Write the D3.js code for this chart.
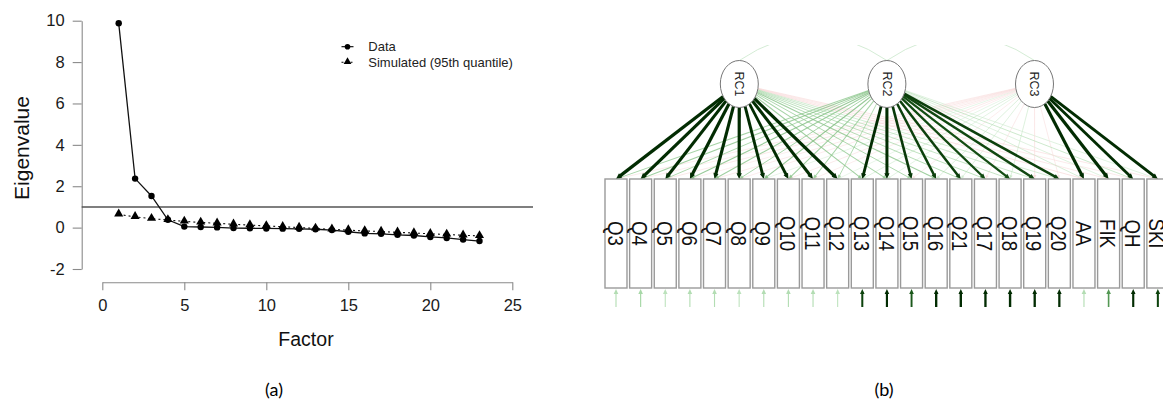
<!DOCTYPE html>
<html>
<head>
<meta charset="utf-8">
<script src="https://cdn.jsdelivr.net/npm/d3@7"></script>
<style>
  body { margin: 0; background: #fff; }
  svg { display: block; font-family: "Liberation Sans", Arial, sans-serif; }
</style>
</head>
<body>
<div id="chart"></div>
<script>
// ---- panel (a): parallel analysis scree plot ----
const factors = d3.range(1, 24);
const dataEigen = [9.88, 2.37, 1.53, 0.38, 0.05, 0.03, 0.01, -0.02, -0.03, -0.04, -0.05, -0.06,
  -0.08, -0.12, -0.2, -0.28, -0.3, -0.35, -0.38, -0.45, -0.5, -0.58, -0.65];
const simEigen = [0.64, 0.52, 0.43, 0.37, 0.3, 0.25, 0.21, 0.16, 0.12, 0.08, 0.04, 0.0,
  -0.04, -0.08, -0.12, -0.16, -0.19, -0.23, -0.26, -0.3, -0.33, -0.37, -0.4];
const xTicks = [0, 5, 10, 15, 20, 25];
const yTicks = [-2, 0, 2, 4, 6, 8, 10];
const legendLabels = ["Data", "Simulated (95th quantile)"];

// ---- panel (b): loadings diagram ----
const items = ["Q3", "Q4", "Q5", "Q6", "Q7", "Q8", "Q9", "Q10", "Q11", "Q12", "Q13", "Q14",
  "Q15", "Q16", "Q21", "Q17", "Q18", "Q19", "Q20", "AA", "FIK", "QH", "SKI"];
const rcNames = ["RC1", "RC2", "RC3"];
const loadRC1 = [0.78, 0.8, 0.76, 0.8, 0.77, 0.79, 0.74, 0.72, 0.75, 0.78, 0.3, 0.28,
  0.26, 0.3, 0.24, 0.22, 0.2, 0.18, 0.16, -0.16, -0.12, -0.1, -0.13];
const loadRC2 = [0.28, 0.3, 0.26, 0.32, 0.3, 0.27, 0.33, 0.3, 0.28, 0.25, 0.72, 0.75,
  0.68, 0.66, 0.66, 0.63, 0.62, 0.64, 0.66, 0.14, 0.1, 0.18, 0.1];
const loadRC3 = [-0.1, -0.08, -0.12, -0.06, -0.1, -0.08, 0.06, -0.1, -0.07, 0.05, 0.1, 0.08,
  -0.08, 0.12, 0.1, -0.1, 0.12, -0.14, -0.1, 0.76, 0.78, 0.72, 0.75];
const residuals = [0.3, 0.32, 0.28, 0.3, 0.3, 0.28, 0.3, 0.3, 0.3, 0.28, 0.5, 0.52,
  0.48, 0.55, 0.56, 0.55, 0.56, 0.55, 0.54, 0.3, 0.42, 0.52, 0.5];
const factorCorr = [["RC1", "RC2", 0.15], ["RC2", "RC3", 0.12]];

const W = 1163, H = 414;
const svg = d3.select("#chart").append("svg").attr("width", W).attr("height", H);

// ===== panel (a) =====
const x = d3.scaleLinear().domain([0, 25]).range([102.3, 512.3]);
const y = d3.scaleLinear().domain([-2, 10]).range([269, 20.7]);
const pa = svg.append("g");

const xAxis = pa.append("g")
  .attr("transform", "translate(0,282.3)")
  .call(d3.axisBottom(x).tickValues(xTicks).tickSize(8).tickSizeOuter(0).tickPadding(9));
const yAxis = pa.append("g")
  .attr("transform", "translate(81.7,0)")
  .call(d3.axisLeft(y).tickValues(yTicks).tickFormat(d => String(d)).tickSize(9).tickSizeOuter(0).tickPadding(8));
[xAxis, yAxis].forEach(a => {
  a.selectAll("path, line").attr("stroke", "#8a8a8a").attr("stroke-width", 1.1);
  a.selectAll("text").attr("font-size", 16.5).attr("fill", "#1a1a1a")
    .attr("font-family", "Liberation Sans, Arial, sans-serif");
});

pa.append("line")
  .attr("x1", 81.7).attr("x2", 533)
  .attr("y1", y(1)).attr("y2", y(1))
  .attr("stroke", "#555").attr("stroke-width", 1.4);

const line = d3.line().x((d, i) => x(factors[i])).y(d => y(d));
pa.append("path").datum(simEigen)
  .attr("d", line).attr("fill", "none")
  .attr("stroke", "#111").attr("stroke-width", 1.1).attr("stroke-dasharray", "2,3");
pa.append("path").datum(dataEigen)
  .attr("d", line).attr("fill", "none")
  .attr("stroke", "#111").attr("stroke-width", 1.3);

const tri = d3.symbol().type(d3.symbolTriangle).size(36);
pa.selectAll(".sim").data(simEigen).join("path")
  .attr("transform", (d, i) => `translate(${x(factors[i])},${y(d) - 0.5})`)
  .attr("d", tri).attr("fill", "#000");
pa.selectAll(".dat").data(dataEigen).join("circle")
  .attr("cx", (d, i) => x(factors[i])).attr("cy", d => y(d))
  .attr("r", 3.2).attr("fill", "#000");

// legend
const lg = pa.append("g");
legendLabels.forEach((lab, i) => {
  const ly = 46.7 + i * 15.6;
  lg.append("line").attr("x1", 341.5).attr("x2", 353.5).attr("y1", ly).attr("y2", ly)
    .attr("stroke", "#000").attr("stroke-width", 1.1)
    .attr("stroke-dasharray", i === 0 ? null : "2,2.5");
  if (i === 0) lg.append("circle").attr("cx", 347.5).attr("cy", ly).attr("r", 2.8);
  else lg.append("path").attr("transform", `translate(347.5,${ly - 0.5})`).attr("d", d3.symbol().type(d3.symbolTriangle).size(26));
  lg.append("text").attr("x", 368.3).attr("y", ly).attr("dy", "0.35em")
    .attr("font-size", 13).attr("fill", "#222").text(lab);
});

pa.append("text").attr("transform", "translate(29,148) rotate(-90)")
  .attr("text-anchor", "middle").attr("font-size", 21).attr("fill", "#111").text("Eigenvalue");
pa.append("text").attr("x", 306).attr("y", 346)
  .attr("text-anchor", "middle").attr("font-size", 19.5).attr("fill", "#111").text("Factor");

svg.append("text").attr("x", 274).attr("y", 396).attr("text-anchor", "middle")
  .attr("font-size", 18).attr("font-family", "Lato, sans-serif").text("(a)");
svg.append("text").attr("x", 884).attr("y", 396).attr("text-anchor", "middle")
  .attr("font-size", 18).attr("font-family", "Lato, sans-serif").text("(b)");

// ===== panel (b) =====
const pb = svg.append("g");
const bx = d3.scaleBand().domain(items).range([605, 605 + 24.63 * (items.length - 0.107)])
  .paddingInner(0.107).paddingOuter(0);
const fx = d3.scalePoint().domain(rcNames).range([739.3, 1034.5]);
const fy = 84, rx = 19, ry = 23.5;
const boxTop = 179, boxBot = 288;

const posCol = d3.interpolateRgbBasis(["#e2f3e2", "#92d192", "#236f23", "#022c02"]);
const negCol = d3.interpolateRgbBasis(["#fbe8e8", "#f0aeae", "#c23c3c"]);
const strength = w => Math.min(1, Math.pow(Math.abs(w) / 0.72, 1.2));
const edgeColor = w => (w >= 0 ? posCol : negCol)(strength(w));
const edgeWidth = w => 0.7 + 2.5 * Math.pow(Math.min(1, Math.abs(w) / 0.78), 2);

// factor correlation curves (clipped at the top, as in the original)
const clip = svg.append("clipPath").attr("id", "topclip");
clip.append("rect").attr("x", 600).attr("y", 45).attr("width", 563).attr("height", 60);
factorCorr.forEach(([a, b, w]) => {
  const x1 = fx(a), x2 = fx(b);
  pb.append("path")
    .attr("d", `M${x1},${fy - ry} Q${(x1 + x2) / 2},${fy - ry - 50} ${x2},${fy - ry}`)
    .attr("fill", "none").attr("stroke", "#cfead0").attr("stroke-width", 0.9)
    .attr("clip-path", "url(#topclip)");
});

const loads = [loadRC1, loadRC2, loadRC3];
const edges = [];
rcNames.forEach((rc, k) => {
  items.forEach((it, i) => edges.push({ rc, it, w: loads[k][i] }));
});
edges.sort((a, b) => Math.abs(a.w) - Math.abs(b.w));

const eg = pb.append("g");
edges.forEach(e => {
  const cx = fx(e.rc), tx = bx(e.it) + bx.bandwidth() / 2, ty = boxTop;
  const dx = tx - cx, dy = ty - fy;
  const t = 1 / Math.sqrt((dx * dx) / (rx * rx) + (dy * dy) / (ry * ry));
  const sx = cx + dx * t, sy = fy + dy * t;
  const len = Math.hypot(tx - sx, ty - sy);
  const ux = (tx - sx) / len, uy = (ty - sy) / len;
  const col = edgeColor(e.w);
  const op = Math.abs(e.w) > 0.5 ? 1 : 0.8;
  const ah = 3.5 + Math.abs(e.w) * 3, aw = 1.4 + Math.abs(e.w) * 1.6;
  eg.append("line")
    .attr("x1", sx).attr("y1", sy).attr("x2", tx - ux * ah * 0.6).attr("y2", ty - uy * ah * 0.6)
    .attr("stroke", col).attr("stroke-width", edgeWidth(e.w)).attr("stroke-opacity", op);
  const bxp = tx - ux * ah, byp = ty - uy * ah;
  eg.append("path")
    .attr("d", `M${tx},${ty} L${bxp - uy * aw},${byp + ux * aw} L${bxp + uy * aw},${byp - ux * aw}Z`)
    .attr("fill", col).attr("fill-opacity", op);
});

// factor ellipses
const fg = pb.selectAll(".fac").data(rcNames).join("g")
  .attr("transform", d => `translate(${fx(d)},${fy})`);
fg.append("ellipse").attr("rx", rx).attr("ry", ry)
  .attr("fill", "#fff").attr("stroke", "#777").attr("stroke-width", 1);
fg.append("text").attr("transform", "rotate(90)")
  .attr("text-anchor", "middle").attr("dy", "0.35em")
  .attr("font-size", 12.5).attr("fill", "#222").text(d => d);

// item boxes
const ig = pb.selectAll(".item").data(items).join("g");
ig.append("rect")
  .attr("x", d => bx(d)).attr("y", boxTop)
  .attr("width", bx.bandwidth()).attr("height", boxBot - boxTop)
  .attr("fill", "#fff").attr("stroke", "#9a9a9a").attr("stroke-width", 1.4);
ig.append("text")
  .attr("transform", d => `translate(${bx(d) + bx.bandwidth() / 2},${(boxTop + boxBot) / 2}) rotate(90) scale(0.85,1)`)
  .attr("text-anchor", "middle").attr("dy", "0.38em")
  .attr("font-size", 22).attr("fill", "#111").text(d => d);

// residual arrows
items.forEach((it, i) => {
  const cx = bx(it) + bx.bandwidth() / 2;
  const r = residuals[i];
  const col = posCol(Math.min(1, Math.pow(r / 0.52, 3)));
  pb.append("line").attr("x1", cx).attr("x2", cx).attr("y1", 307).attr("y2", boxBot + 4)
    .attr("stroke", col).attr("stroke-width", 0.6 + 1.8 * Math.pow(r / 0.56, 2));
  pb.append("path")
    .attr("d", `M${cx},${boxBot + 1} L${cx - 2.3},${boxBot + 6} L${cx + 2.3},${boxBot + 6}Z`)
    .attr("fill", col);
});
</script>
</body>
</html>
